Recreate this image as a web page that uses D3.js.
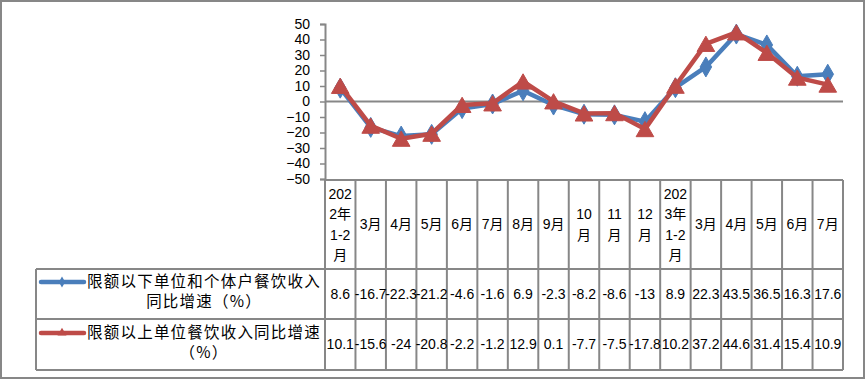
<!DOCTYPE html>
<html>
<head>
<meta charset="utf-8">
<script src="https://cdn.jsdelivr.net/npm/d3@7/dist/d3.min.js"></script>
<style>
body{margin:0;background:#fff;}
svg{display:block;}
</style>
</head>
<body>
<svg id="chart" width="867" height="381"></svg>
<script>
// categories and their wrapped header text (as shown in the table)
var categories = ["2022年1-2月","3月","4月","5月","6月","7月","8月","9月","10月","11月","12月","2023年1-2月","3月","4月","5月","6月","7月"]
var headerLines = [["202","2年","1-2","月"],["3月"],["4月"],["5月"],["6月"],["7月"],["8月"],["9月"],["10","月"],["11","月"],["12","月"],["202","3年","1-2","月"],["3月"],["4月"],["5月"],["6月"],["7月"]]

var seriesNames = [["限额以下单位和个体户餐饮收入","同比增速（%）"],["限额以上单位餐饮收入同比增速","（%）"]]
var belowValues = [8.6,-16.7,-22.3,-21.2,-4.6,-1.6,6.9,-2.3,-8.2,-8.6,-13,8.9,22.3,43.5,36.5,16.3,17.6]
var aboveValues = [10.1,-15.6,-24,-20.8,-2.2,-1.2,12.9,0.1,-7.7,-7.5,-17.8,10.2,37.2,44.6,31.4,15.4,10.9]
var yTicks = [-50,-40,-30,-20,-10,0,10,20,30,40,50]

var gray = "#878787"
var blue = "#4A7EBB"
var red = "#BE4B48"
var numFont = "'Liberation Sans', 'Noto Sans CJK SC', sans-serif"
var cjkFont = "'Noto Sans CJK SC', sans-serif"

var svg = d3.select("#chart")

// outer frame
svg.append("rect")
    .attr("x",1).attr("y",1).attr("width",863).attr("height",377)
    .style("fill","#fff").style("stroke",gray).style("stroke-width",2)

var plotLeft = 325, plotRight = 843
var tableTop = 180, headBottom = 269, row1Bottom = 319, row2Bottom = 370
var legendLeft = 36

var x = d3.scaleBand()
    .domain(d3.range(categories.length))
    .range([plotLeft, plotRight])

var y = d3.scaleLinear()
    .domain([-50,50])
    .range([179, 24])

// y axis
var yAxis = d3.axisLeft(y)
    .tickValues(yTicks)
    .tickSize(5)
    .tickPadding(10)
    .tickFormat(d3.format("d"))

var yG = svg.append("g")
    .attr("transform","translate(" + plotLeft + ",0)")
    .call(yAxis)
yG.select(".domain").style("stroke",gray).style("stroke-width",2)
yG.selectAll(".tick line").style("stroke",gray).style("stroke-width",1.5)
yG.selectAll(".tick text")
    .style("font-family",numFont)
    .style("font-size","14px")
    .style("fill","#000")

// zero line
svg.append("line")
    .attr("x1",plotLeft).attr("x2",plotRight)
    .attr("y1",y(0)).attr("y2",y(0))
    .style("stroke",gray).style("stroke-width",2)

// lines + markers
function cx(i){ return x(i) + x.bandwidth()/2 }

var line = d3.line()
    .x(function(d,i){ return cx(i) })
    .y(function(d){ return y(d) })

var series = [
    {values: belowValues, color: blue, symbol: d3.symbolDiamond, size: 115, dy: 0},
    {values: aboveValues, color: red, symbol: d3.symbolTriangle, size: 135, dy: 2.5}
]

series.forEach(function(s){
    svg.append("path")
        .datum(s.values)
        .attr("d",line)
        .style("fill","none")
        .style("stroke",s.color)
        .style("stroke-width",4.5)
        .style("stroke-linejoin","round")

    svg.append("g")
        .selectAll("path")
        .data(s.values)
        .enter()
        .append("path")
        .attr("d",d3.symbol().type(s.symbol).size(s.size))
        .attr("transform",function(d,i){ return "translate(" + cx(i) + "," + (y(d)+s.dy) + ")" })
        .style("fill",s.color)
        .style("stroke",s.color)
        .style("stroke-width",1)
})

// data table
var tbl = svg.append("g")
var hl = [[plotLeft,plotRight,tableTop],[legendLeft,plotRight,headBottom],[legendLeft,plotRight,row1Bottom],[legendLeft,plotRight,row2Bottom]]
hl.forEach(function(h){
    tbl.append("line")
        .attr("x1",h[0]).attr("x2",h[1]).attr("y1",h[2]).attr("y2",h[2])
        .style("stroke",gray).style("stroke-width",2)
})
tbl.append("line")
    .attr("x1",legendLeft).attr("x2",legendLeft).attr("y1",headBottom).attr("y2",row2Bottom)
    .style("stroke",gray).style("stroke-width",2)

var edges = d3.range(categories.length).map(function(i){ return x(i) }).concat([plotRight])
tbl.selectAll("line.col")
    .data(edges)
    .enter()
    .append("line")
    .attr("class","col")
    .attr("x1",function(d){ return d }).attr("x2",function(d){ return d })
    .attr("y1",tableTop).attr("y2",row2Bottom)
    .style("stroke",gray).style("stroke-width",2)

// header text
var headMid = (tableTop + headBottom)/2
var lh = 20.5
headerLines.forEach(function(lines,i){
    var t = tbl.append("text")
        .attr("text-anchor","middle")
        .style("font-family",numFont)
        .style("font-size","14px")
        .style("fill","#000")
    lines.forEach(function(l,j){
        t.append("tspan")
            .attr("x",cx(i))
            .attr("y",headMid + (j - (lines.length-1)/2)*lh)
            .attr("dy","0.35em")
            .text(l)
    })
})

// value rows
var rowMids = [(headBottom+row1Bottom)/2, (row1Bottom+row2Bottom)/2]
;[belowValues, aboveValues].forEach(function(vals,r){
    tbl.append("g")
        .selectAll("text")
        .data(vals)
        .enter()
        .append("text")
        .attr("x",function(d,i){ return cx(i) })
        .attr("y",rowMids[r])
        .attr("dy","0.35em")
        .attr("text-anchor","middle")
        .style("font-family",numFont)
        .style("font-size","14px")
        .style("fill","#000")
        .text(function(d){ return String(d) })
})

// legend cells
var legY = [[282,302],[333,353]]
series.forEach(function(s,r){
    tbl.append("line")
        .attr("x1",41).attr("x2",84)
        .attr("y1",legY[r][0]).attr("y2",legY[r][0])
        .style("stroke",s.color).style("stroke-width",4.5)
        .style("stroke-linecap","round")
    tbl.append("path")
        .attr("d",d3.symbol().type(s.symbol).size(35))
        .attr("transform","translate(62," + legY[r][0] + ")")
        .style("fill",s.color)

    seriesNames[r].forEach(function(l,j){
        tbl.append("text")
            .attr("x",204)
            .attr("y",legY[r][j])
            .attr("dy","0.35em")
            .attr("text-anchor","middle")
            .style("font-family",cjkFont)
            .style("font-size","15.5px")
            .style("letter-spacing","1.2px")
            .style("fill","#000")
            .text(l)
    })
})
</script>
</body>
</html>
